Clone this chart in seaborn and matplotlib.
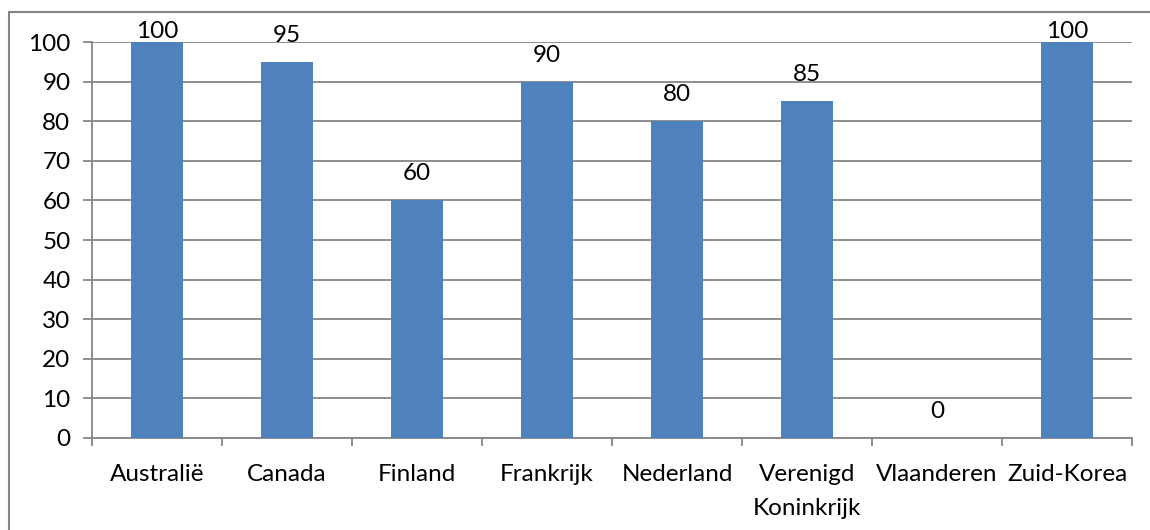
import matplotlib
matplotlib.use("Agg")
import matplotlib.pyplot as plt
from matplotlib.patches import Rectangle
from matplotlib.ticker import FixedLocator, MultipleLocator
import seaborn as sns
import pandas as pd

landen = ["Australië", "Canada", "Finland", "Frankrijk", "Nederland",
          "Verenigd\nKoninkrijk", "Vlaanderen", "Zuid-Korea"]
scores = [100, 95, 60, 90, 80, 85, 0, 100]

sns.set_theme(style="white")
plt.rcParams["font.family"] = ["Lato", "DejaVu Sans"]

GRID = "#868686"
BAR = "#4F81BD"
FS = 17.5

W, H = 1150, 530
fig = plt.figure(figsize=(W / 100, H / 100), dpi=100)
ax = fig.add_axes([92 / W, 1 - 438 / H, (1132 - 92) / W, (438 - 42) / H])

df = pd.DataFrame({"land": landen, "score": scores})
sns.barplot(data=df, x="land", y="score", color=BAR, saturation=1,
            width=0.4, linewidth=0, ax=ax, zorder=3)

ax.set_xlim(-0.5, len(landen) - 0.5)
ax.set_ylim(0, 100)
ax.yaxis.set_major_locator(MultipleLocator(10))
ax.grid(axis="y", color=GRID, lw=1.3, zorder=0)
ax.set_axisbelow(True)
ax.set_xlabel("")
ax.set_ylabel("")

for s in ["top", "right"]:
    ax.spines[s].set_visible(False)
for s in ["left", "bottom"]:
    ax.spines[s].set_color(GRID)
    ax.spines[s].set_linewidth(1.3)

# category separators as ticks below the axis
ax.xaxis.set_minor_locator(FixedLocator([i - 0.5 for i in range(len(landen) + 1)]))
ax.tick_params(axis="x", which="major", length=0, pad=19, labelsize=FS,
               colors="black")
ax.tick_params(axis="x", which="minor", length=6, width=1.3, color=GRID,
               direction="out", bottom=True)
ax.tick_params(axis="y", which="major", length=6.5, width=1.3, color=GRID,
               direction="out", left=True, labelsize=FS, pad=9,
               labelcolor="black")
for lbl in ax.get_xticklabels():
    lbl.set_linespacing(1.75)
    lbl.set_verticalalignment("top")

# value labels above each bar, kept inside the plot area
for i, v in enumerate(scores):
    if v + 4.5 > 100:
        ax.text(i, v, f"{v}", ha="center", va="bottom", fontsize=FS,
                color="black", zorder=4)
    else:
        ax.annotate(f"{v}", (i, v), xytext=(0, 11.5), textcoords="offset points",
                    ha="center", va="bottom", fontsize=FS, color="black",
                    zorder=4)

# chart border
fig.patches.append(Rectangle((9 / W, -0.1), 1.2, (H - 12) / H + 0.1,
                             transform=fig.transFigure, fill=False,
                             edgecolor=GRID, lw=1.5))

fig.savefig("out.png", dpi=100, facecolor="white")
